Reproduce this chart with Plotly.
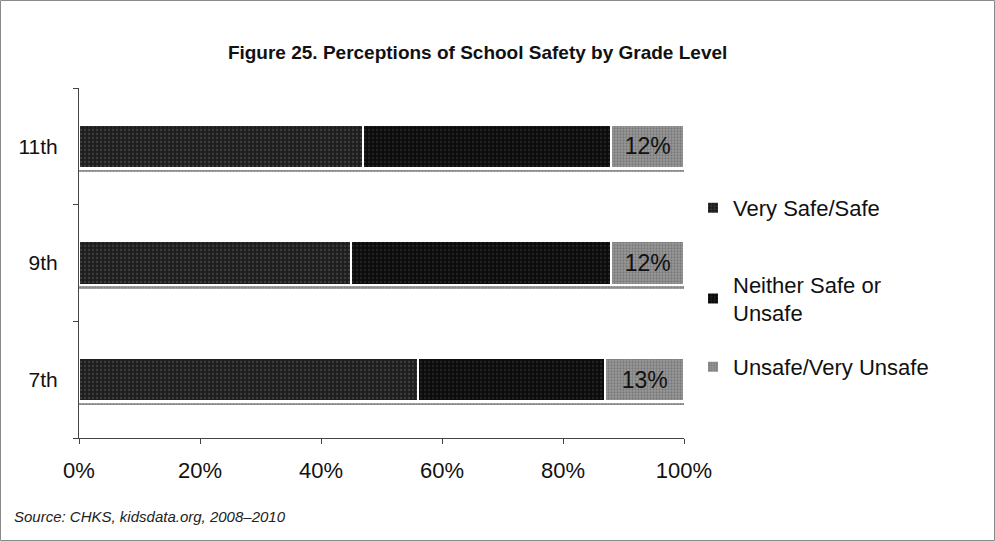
import plotly.graph_objects as go

# Données (en %)
grades = ["7th", "9th", "11th"]
very_safe = [56, 45, 47]
neither = [31, 43, 41]
unsafe = [13, 12, 12]

series_names = ["Very Safe/Safe", "Neither Safe or<br>Unsafe", "Unsafe/Very Unsafe"]
x_ticks = [0, 20, 40, 60, 80, 100]
x_tick_labels = ["0%", "20%", "40%", "60%", "80%", "100%"]

FONT = "Arial, 'Liberation Sans', sans-serif"

# Géométrie de la zone de tracé (px)
L, T, W, H = 79, 88, 605, 350
FIG_W, FIG_H = 995, 541
BAR_W = 0.37


def px_x(p):
    return (p - L) / W


def px_y(p):
    return (T + H - p) / H


fig = go.Figure()

styles = [
    dict(bgcolor="#1e1e1e", fgcolor="#5c5c5c", size=4, solidity=0.25),
    dict(bgcolor="#0c0c0c", fgcolor="#3a3a3a", size=4, solidity=0.25),
    dict(bgcolor="#9a9a9a", fgcolor="#555555", size=3, solidity=0.45),
]
legend_ids = ["legend", "legend2", "legend3"]
legend_y = [208, 299, 367]

for i, (vals, name, st) in enumerate(zip([very_safe, neither, unsafe], series_names, styles)):
    fig.add_trace(go.Bar(
        y=grades, x=vals, orientation="h", name=name,
        legend=legend_ids[i], width=BAR_W,
        marker=dict(color=st["bgcolor"],
                    pattern=dict(shape=".", fgcolor=st["fgcolor"], bgcolor=st["bgcolor"],
                                 size=st["size"], solidity=st["solidity"]),
                    line=dict(color="white", width=2)),
        text=[f"{v}%" for v in vals] if i == 2 else None,
        textposition="inside" if i == 2 else "none",
        insidetextanchor="middle",
        textfont=dict(family=FONT, size=23, color="#111111"),
        hovertemplate="%{y}: %{x}%<extra>" + name.replace("<br>", " ") + "</extra>",
    ))

# Ombre grise sous chaque barre (effet 3D de l'original)
totals = [a + b + c for a, b, c in zip(very_safe, neither, unsafe)]
fig.add_trace(go.Bar(
    y=grades, x=totals, orientation="h", yaxis="y2",
    width=0.015, offset=-BAR_W / 2 - 0.03,
    marker=dict(color="#8c8c8c", line=dict(width=0),
                pattern=dict(shape=".", fgcolor="#555555", bgcolor="#b0b0b0", size=3, solidity=0.5)),
    showlegend=False, hoverinfo="skip",
))

legends = {}
for i, lid in enumerate(legend_ids):
    legends[lid] = dict(x=px_x(693), xanchor="left",
                        y=px_y(legend_y[i]), yanchor="middle",
                        itemwidth=30,
                        font=dict(family=FONT, size=22, color="#111111"),
                        bgcolor="rgba(0,0,0,0)")

fig.update_layout(
    width=FIG_W, height=FIG_H,
    margin=dict(l=L, r=FIG_W - L - W, t=T, b=FIG_H - T - H, autoexpand=False),
    paper_bgcolor="white", plot_bgcolor="white",
    barmode="stack",
    font=dict(family=FONT, size=21, color="#111111"),
    title=dict(text="<b>Figure 25. Perceptions of School Safety by Grade Level</b>",
               x=0.48, xanchor="center", y=1 - 52 / FIG_H, yanchor="middle",
               font=dict(family=FONT, size=19, color="#111111")),
    xaxis=dict(range=[0, 100], tickvals=x_ticks, ticktext=x_tick_labels,
               showgrid=False, zeroline=False, automargin=False,
               showline=True, linecolor="#444444", linewidth=1,
               ticks="outside", ticklen=5, tickcolor="#444444",
               ticklabelstandoff=8,
               tickfont=dict(family=FONT, size=22, color="#111111")),
    yaxis=dict(categoryorder="array", categoryarray=grades,
               range=[-0.5, 2.5], automargin=False,
               showgrid=False, zeroline=False,
               showline=True, linecolor="#444444", linewidth=1,
               ticks="outside", ticklen=5, tickcolor="#444444",
               tickson="boundaries", ticklabelstandoff=16,
               tickfont=dict(family=FONT, size=21, color="#111111")),
    yaxis2=dict(overlaying="y", categoryorder="array", categoryarray=grades,
                range=[-0.5, 2.5], visible=False),
    showlegend=True,
    **legends,
)

# Note de source
fig.add_annotation(text="<i>Source: CHKS, kidsdata.org, 2008–2010</i>",
                   xref="paper", yref="paper",
                   x=px_x(12), y=px_y(516),
                   xanchor="left", yanchor="middle", showarrow=False,
                   font=dict(family=FONT, size=15, color="#222222"))

# Cadre autour de la figure
fig.add_shape(type="rect", xref="paper", yref="paper",
              x0=px_x(0.5), x1=px_x(FIG_W - 0.5),
              y0=px_y(FIG_H - 0.5), y1=px_y(0.5),
              line=dict(color="#8a8a8a", width=1))

fig.write_html("out.html", config={"displayModeBar": False},
               post_script="document.body.style.margin='0';")
